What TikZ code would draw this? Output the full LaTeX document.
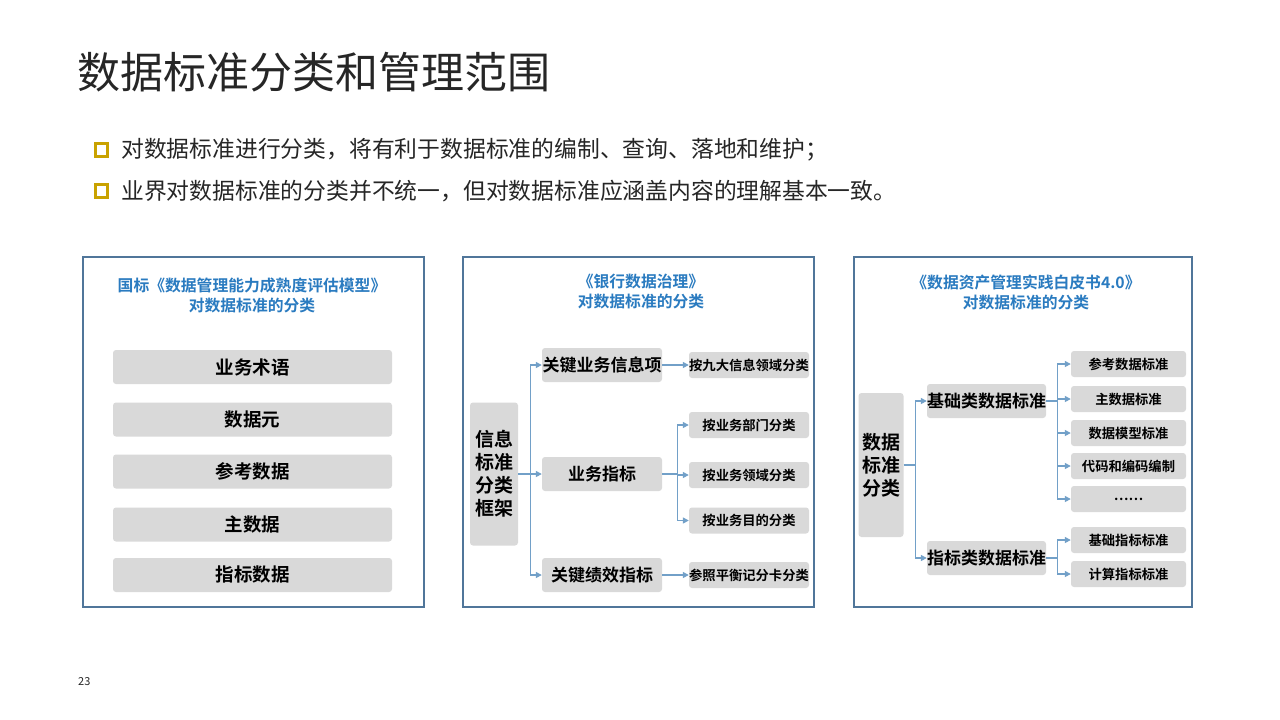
\documentclass[tikz,border=0pt]{standalone}
\usepackage{fontspec}
\setmainfont{Noto Sans CJK SC}[BoldFont={Noto Sans CJK SC Bold}]
\usetikzlibrary{arrows.meta}
\definecolor{panelblue}{HTML}{50769A}
\definecolor{titleblue}{HTML}{2A7BC0}
\definecolor{boxgray}{HTML}{D9D9D9}
\definecolor{linkblue}{HTML}{72A0C8}
\definecolor{bulletgold}{HTML}{C9A200}
\definecolor{textdark}{HTML}{262626}

\begin{document}
\begin{tikzpicture}[x=1pt, y=-1pt,
		panel/.style={draw=panelblue, line width=1.1pt},
		paneltitle/.style={font=\fontsize{15.8}{20}\selectfont\bfseries, text=titleblue, align=center},
		listbox/.style={fill=boxgray, rounded corners=3pt, minimum width=279pt, minimum height=34pt,
			inner sep=0pt, font=\fontsize{18.5}{21}\selectfont\bfseries},
		rootbox/.style={fill=boxgray, rounded corners=3pt, inner sep=0pt, align=center,
			font=\fontsize{19}{23}\selectfont\bfseries},
		midbox/.style={fill=boxgray, rounded corners=3pt, minimum width=120pt, minimum height=34pt,
			inner sep=0pt, font=\fontsize{17}{20}\selectfont\bfseries},
		leafbox/.style={fill=boxgray, rounded corners=3pt, minimum width=120pt, minimum height=26pt,
			inner sep=0pt, font=\fontsize{13.3}{15}\selectfont\bfseries},
		link/.style={draw=linkblue, line width=1.4pt},
		linkto/.style={link, -{Triangle[length=6pt, width=6pt]}}]
	
	\useasboundingbox[fill=white] (0,0) rectangle (1280,720);
	
	% Title and bullets
	\node[anchor=west, inner sep=0pt, text=textdark, font=\fontsize{43}{47}\selectfont]
	(title) at (77, 72) {数据标准分类和管理范围};
	\draw[bulletgold, line width=3pt] (95,143) rectangle (107,156);
	\node[anchor=west, inner sep=0pt, text=textdark, font=\fontsize{22.8}{26}\selectfont]
	(pointa) at (121, 150) {对数据标准进行分类，将有利于数据标准的编制、查询、落地和维护；};
	\draw[bulletgold, line width=3pt] (95,184) rectangle (107,197);
	\node[anchor=west, inner sep=0pt, text=textdark, font=\fontsize{22.8}{26}\selectfont]
	(pointb) at (121, 191) {业界对数据标准的分类并不统一，但对数据标准应涵盖内容的理解基本一致。};
	
	% --- Panel 1: national standard ---
	\draw[panel] (83,257) rectangle (424,607);
	\node[paneltitle] (gbtitle) at (252, 295) {国标《数据管理能力成熟度评估模型》\\对数据标准的分类};
	\node[listbox] (term) at (252.5, 367) {业务术语};
	\node[listbox] (element) at (252.5, 419.5) {数据元};
	\node[listbox] (refdata) at (252.5, 471.5) {参考数据};
	\node[listbox] (master) at (252.5, 524.5) {主数据};
	\node[listbox] (metric) at (252.5, 575) {指标数据};
	
	% --- Panel 2: bank data governance ---
	\draw[panel] (463,257) rectangle (814,607);
	\node[paneltitle] (banktitle) at (641, 292) {《银行数据治理》\\对数据标准的分类};
	\node[rootbox, minimum width=48pt, minimum height=143pt] (frame) at (494, 474)
	{信息\\标准\\分类\\框架};
	\node[midbox] (keyitem) at (602, 365) {关键业务信息项};
	\node[midbox] (bizind) at (602, 474) {业务指标};
	\node[midbox] (kpi) at (602, 575) {关键绩效指标};
	\node[leafbox] (ninearea) at (749, 365) {按九大信息领域分类};
	\node[leafbox] (bydept) at (749, 425) {按业务部门分类};
	\node[leafbox] (bydomain) at (749, 475) {按业务领域分类};
	\node[leafbox] (bypurpose) at (749, 520.5) {按业务目的分类};
	\node[leafbox] (scorecard) at (749, 575) {参照平衡记分卡分类};
	
	\draw[link] (frame.east) -- ++(12,0) coordinate (banktrunk);
	\foreach \target in {keyitem, bizind, kpi}
	\draw[linkto] (banktrunk) |- (\target.west);
	\draw[linkto] (keyitem.east) -- (ninearea.west);
	\draw[link] (bizind.east) -- ++(15,0) coordinate (indtrunk);
	\foreach \target in {bydept, bydomain, bypurpose}
	\draw[linkto] (indtrunk) |- (\target.west);
	\draw[linkto] (kpi.east) -- (scorecard.west);
	
	% --- Panel 3: data asset white paper ---
	\draw[panel] (854,257) rectangle (1192,607);
	\node[paneltitle] (wptitle) at (1026, 292) {《数据资产管理实践白皮书4.0》\\对数据标准的分类};
	\node[rootbox, minimum width=45pt, minimum height=144pt] (stdclass) at (881, 465)
	{数据\\标准\\分类};
	\node[midbox, minimum width=119pt] (basestd) at (986.5, 401) {基础类数据标准};
	\node[midbox, minimum width=119pt] (indstd) at (986.5, 558) {指标类数据标准};
	\node[leafbox, minimum width=115pt] (refstd) at (1128.5, 364) {参考数据标准};
	\node[leafbox, minimum width=115pt] (masterstd) at (1128.5, 399) {主数据标准};
	\node[leafbox, minimum width=115pt] (modelstd) at (1128.5, 433) {数据模型标准};
	\node[leafbox, minimum width=115pt] (codestd) at (1128.5, 466) {代码和编码编制};
	\node[leafbox, minimum width=115pt] (morestd) at (1128.5, 499) {……};
	\node[leafbox, minimum width=115pt] (baseind) at (1128.5, 540) {基础指标标准};
	\node[leafbox, minimum width=115pt] (calcind) at (1128.5, 574) {计算指标标准};
	
	\draw[link] (stdclass.east) -- ++(12,0) coordinate (wptrunk);
	\foreach \target in {basestd, indstd}
	\draw[linkto] (wptrunk) |- (\target.west);
	\draw[link] (basestd.east) -- ++(11,0) coordinate (basetrunk);
	\foreach \target in {refstd, masterstd, modelstd, codestd, morestd}
	\draw[linkto] (basetrunk) |- (\target.west);
	\draw[link] (indstd.east) -- ++(11,0) coordinate (indstdtrunk);
	\foreach \target in {baseind, calcind}
	\draw[linkto] (indstdtrunk) |- (\target.west);
	
	% Page number
	\node[anchor=west, inner sep=0pt, text=textdark, font=\fontsize{11}{13}\selectfont]
	(pagenum) at (78, 682) {23};
	
\end{tikzpicture}
\end{document}
